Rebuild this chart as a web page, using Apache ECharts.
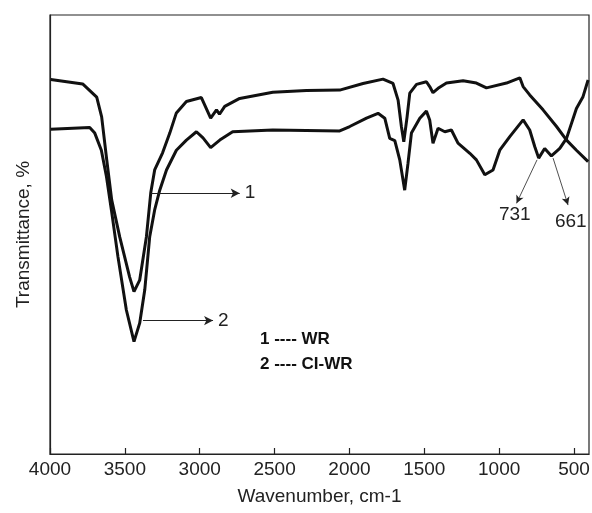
<!DOCTYPE html>
<html>
<head>
<meta charset="utf-8">
<script src="https://cdn.jsdelivr.net/npm/echarts@6/dist/echarts.min.js"></script>
<style>html,body{margin:0;padding:0;background:#fff;}#c{width:592px;height:513px;}</style>
</head>
<body>
<div id="c"></div>
<script>
// Wavenumber (cm-1) and transmittance (arbitrary %)
var wrX = [3995,3782,3688,3655,3621,3588,3534,3468,3439,3401,3356,3327,3301,3248,3200,3156,3089,2989,2927,2888,2868,2833,2733,2512,2287,2065,1909,1776,1709,1675,1653,1637,1615,1597,1552,1486,1464,1442,1408,1352,1241,1152,1085,951,862,840,796,707,617,550,484,406];
var wrY = [85.3,84.3,81.3,76.8,67.0,57.9,49.4,40.3,37.0,39.6,49.5,59.5,64.7,68.6,73.1,77.7,80.3,81.2,76.5,78.4,77.4,79.2,81.0,82.4,82.8,82.9,84.4,85.4,84.4,80.6,74.6,71.1,76.8,82.2,84.2,84.8,83.7,82.3,83.3,84.5,85.0,84.5,83.4,84.5,85.7,83.7,81.8,78.4,74.6,71.5,69.2,66.6];
var ciX = [3995,3735,3701,3657,3623,3590,3546,3490,3439,3401,3367,3334,3301,3267,3222,3156,3089,3022,2978,2927,2866,2780,2512,2065,1998,1886,1809,1764,1731,1697,1664,1631,1609,1586,1530,1486,1464,1442,1408,1363,1319,1275,1196,1152,1096,1041,996,929,840,796,762,736,696,651,595,550,484,440,406];
var ciY = [74.0,74.4,73.1,69.2,63.2,55.6,44.9,32.8,25.6,29.8,37.4,49.5,55.6,60.1,64.7,69.2,71.5,73.4,72.0,69.8,71.5,73.4,73.8,73.6,74.6,76.5,77.6,76.5,71.9,71.4,67.0,60.1,66.2,73.1,76.5,78.1,76.1,70.8,74.2,73.4,73.8,70.8,68.5,67.0,63.6,64.7,69.2,72.3,76.1,73.8,70.0,67.4,69.6,67.9,69.6,71.9,78.7,81.4,85.2];
var xTicks = [4000,3500,3000,2500,2000,1500,1000,500];
// Annotation arrows: [fromX, fromY, toX, toY, label, labelX, labelY]
var arrow1 = [3327, 59.4, 2733, 59.4, '1'];
var arrow2 = [3379, 30.4, 2911, 30.4, '2'];
var arrow731 = [747, 67.0, 884, 57.1, '731', 896, 54.6];
var arrow661 = [640, 67.4, 540, 56.7, '661', 522, 53.0];
var legendLines = ['1 ---- WR', '2 ---- CI-WR'];

function pairs(xs, ys){ return xs.map(function(x,i){ return [x, ys[i]]; }); }
function arrowLine(a){ return [{coord:[a[0],a[1]]},{coord:[a[2],a[3]]}]; }
var FONT = 'Liberation Sans, Arial, sans-serif';

var chart = echarts.init(document.getElementById('c'), null, {renderer:'canvas'});
var lineStyleCommon = {color:'#111', width:3};
chart.setOption({
  animation:false,
  backgroundColor:'#fff',
  grid:{left:50, right:3, top:15, bottom:59, containLabel:false, outerBoundsMode:'none',
        show:true, borderColor:'#222', borderWidth:1.2, backgroundColor:'transparent'},
  xAxis:{
    type:'value', min:400, max:4000, inverse:true,
    name:'Wavenumber, cm-1', nameLocation:'middle', nameGap:33,
    nameTextStyle:{fontFamily:FONT, fontSize:19, color:'#222'},
    axisLine:{show:true, lineStyle:{color:'#222', width:1.2}},
    axisTick:{show:true, inside:true, length:6, customValues:xTicks, lineStyle:{color:'#222', width:1.2}},
    axisLabel:{customValues:xTicks, fontFamily:FONT, fontSize:19, color:'#222', margin:6,
      formatter:function(v){ return String(v); }},
    splitLine:{show:false}
  },
  yAxis:{
    type:'value', min:0, max:100,
    name:'Transmittance, %', nameLocation:'middle', nameGap:17,
    nameTextStyle:{fontFamily:FONT, fontSize:19, color:'#222'},
    axisLine:{show:true, lineStyle:{color:'#222', width:1.2}},
    axisTick:{show:false}, axisLabel:{show:false}, splitLine:{show:false}
  },
  series:[
    {type:'line', name:'WR', data:pairs(wrX, wrY), showSymbol:false, lineStyle:lineStyleCommon, z:3,
     markLine:{silent:true, symbol:['none','arrow'], symbolSize:[7,9], lineStyle:{color:'#222', width:1, type:'solid'},
       label:{show:true, position:'end', fontFamily:FONT, fontSize:19, color:'#222', distance:5,
         formatter:function(p){ return p.name; }},
       data:[
         [{coord:[arrow1[0],arrow1[1]], name:arrow1[4]},{coord:[arrow1[2],arrow1[3]]}],
         [{coord:[arrow2[0],arrow2[1]], name:arrow2[4]},{coord:[arrow2[2],arrow2[3]]}]
       ]}
    },
    {type:'line', name:'CI-WR', data:pairs(ciX, ciY), showSymbol:false, lineStyle:lineStyleCommon, z:3,
     markLine:{silent:true, symbol:['none','arrow'], symbolSize:[6,8], lineStyle:{color:'#222', width:0.8, type:'solid'},
       label:{show:false},
       data:[arrowLine(arrow731), arrowLine(arrow661)]},
     markPoint:{silent:true, symbol:'circle', symbolSize:1, itemStyle:{color:'rgba(0,0,0,0)'},
       label:{show:true, position:'inside', fontFamily:FONT, fontSize:19, color:'#222', formatter:function(p){return p.name;}},
       data:[
         {coord:[arrow731[5], arrow731[6]], name:arrow731[4]},
         {coord:[arrow661[5], arrow661[6]], name:arrow661[4]}
       ]}
    }
  ],
  graphic:[
    {type:'text', left:260, top:331, style:{text:legendLines[0], font:'bold 17px ' + FONT, fill:'#111'}},
    {type:'text', left:260, top:356, style:{text:legendLines[1], font:'bold 17px ' + FONT, fill:'#111'}}
  ]
});
</script>
</body>
</html>
